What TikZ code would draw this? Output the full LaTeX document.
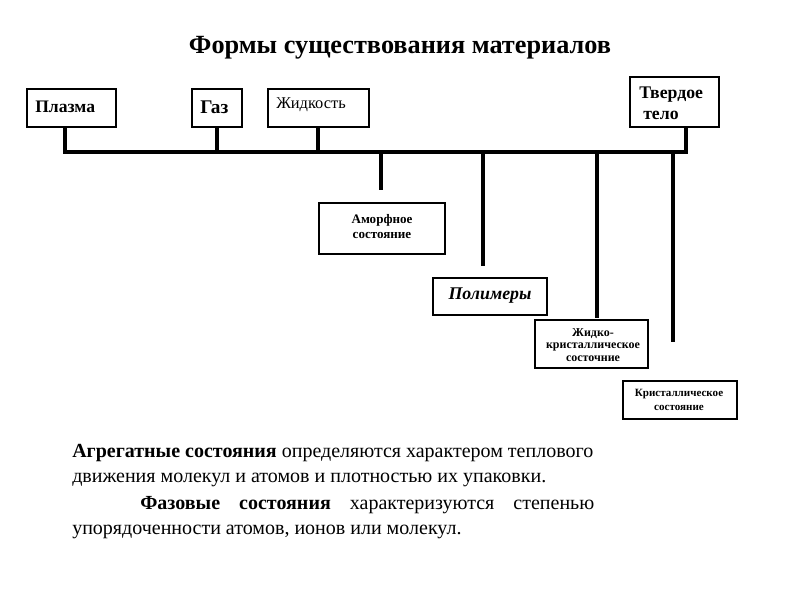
\documentclass[tikz,border=0pt]{standalone}
\usepackage{fontspec}
\setmainfont{Liberation Serif}
\begin{document}
\begin{tikzpicture}[x=0.75pt,y=-0.75pt,
  box/.style={draw=black,line width=0.8pt,inner sep=0pt,fill=white},
  bus/.style={line width=3pt,line cap=butt},
  lbl/.style={inner sep=0pt,anchor=base west},
  sml/.style={inner sep=0pt,align=center},
  body/.style={inner sep=0pt,anchor=base west,font=\fontsize{15}{18}\selectfont}]
\useasboundingbox (0,0) rectangle (800,600);
\node[inner sep=0pt,anchor=base,font=\fontsize{19.7}{23}\selectfont\bfseries] (title) at (400,53) {Формы существования материалов};
% top boxes
\node[box,minimum width=89*0.75pt,minimum height=38*0.75pt] (plazma) at (71.5,108) {};
\node[lbl,font=\fontsize{13.2}{15}\selectfont\bfseries] (tplazma) at (35,112) {Плазма};
\node[box,minimum width=50*0.75pt,minimum height=38*0.75pt] (gaz) at (217,108) {};
\node[lbl,font=\fontsize{14.5}{16}\selectfont\bfseries] (tgaz) at (200,113) {Газ};
\node[box,minimum width=101*0.75pt,minimum height=38*0.75pt] (zhid) at (318.5,108) {};
\node[lbl,font=\fontsize{12.3}{14}\selectfont] (tzhid) at (276,108) {Жидкость};
\node[box,minimum width=89*0.75pt,minimum height=50*0.75pt] (tverd) at (674.5,102) {};
\node[lbl,font=\fontsize{13.3}{15}\selectfont\bfseries] (ttverd1) at (639,98.5) {Твердое};
\node[lbl,font=\fontsize{13.3}{15}\selectfont\bfseries] (ttverd2) at (643,119) {тело};
% bus
\coordinate (L) at (63,152);
\coordinate (R) at (688,152);
\draw[bus] (L) -- (R);
\draw[bus] (65,0 |- plazma.south) -- (65,0 |- L);
\draw[bus] (217,0 |- gaz.south) -- (217,0 |- L);
\draw[bus] (318,0 |- zhid.south) -- (318,0 |- L);
\draw[bus] (686,0 |- tverd.south) -- (686,0 |- L);
% drops
\coordinate (d1) at (381,190);
\coordinate (d2) at (483,266);
\coordinate (d3) at (597,318);
\coordinate (d4) at (673,342);
\draw[bus] (381,0 |- L) -- (d1);
\draw[bus] (483,0 |- L) -- (d2);
\draw[bus] (597,0 |- L) -- (d3);
\draw[bus] (673,0 |- L) -- (d4);
% lower boxes
\node[box,minimum width=126*0.75pt,minimum height=51*0.75pt] (amorf) at (382,228.5) {};
\node[sml,font=\fontsize{9.8}{10.8}\selectfont\bfseries] (tamorf) at (382,226.5) {Аморфное\\состояние};
\node[box,minimum width=114*0.75pt,minimum height=37*0.75pt] (polim) at (490,296.5) {};
\node[inner sep=0pt,font=\fontsize{13.4}{15}\selectfont\bfseries\itshape] (tpolim) at (490,296) {Полимеры};
\node[box,minimum width=113*0.75pt,minimum height=48*0.75pt] (zhk) at (591.5,344) {};
\node[sml,font=\fontsize{9}{9.4}\selectfont\bfseries] (tzhk) at (593,345) {Жидко-\\кристаллическое\\состочние};
\node[box,minimum width=114*0.75pt,minimum height=38*0.75pt] (krist) at (680,400) {};
\node[sml,font=\fontsize{8.3}{11}\selectfont\bfseries] (tkrist) at (679,400) {Кристаллическое\\состояние};
% text
\node[body] (p1a) at (72,457) {\textbf{Агрегатные состояния} определяются характером теплового};
\node[body] (p1b) at (72,482) {движения молекул и атомов и плотностью их упаковки.};
\node[body] (p2a) at (140,509) {\hbox to 340.5pt{\textbf{Фазовые\hfill состояния}\hfill характеризуются\hfill степенью}};
\node[body] (p2b) at (72,534) {упорядоченности атомов, ионов или молекул.};
\end{tikzpicture}
\end{document}
